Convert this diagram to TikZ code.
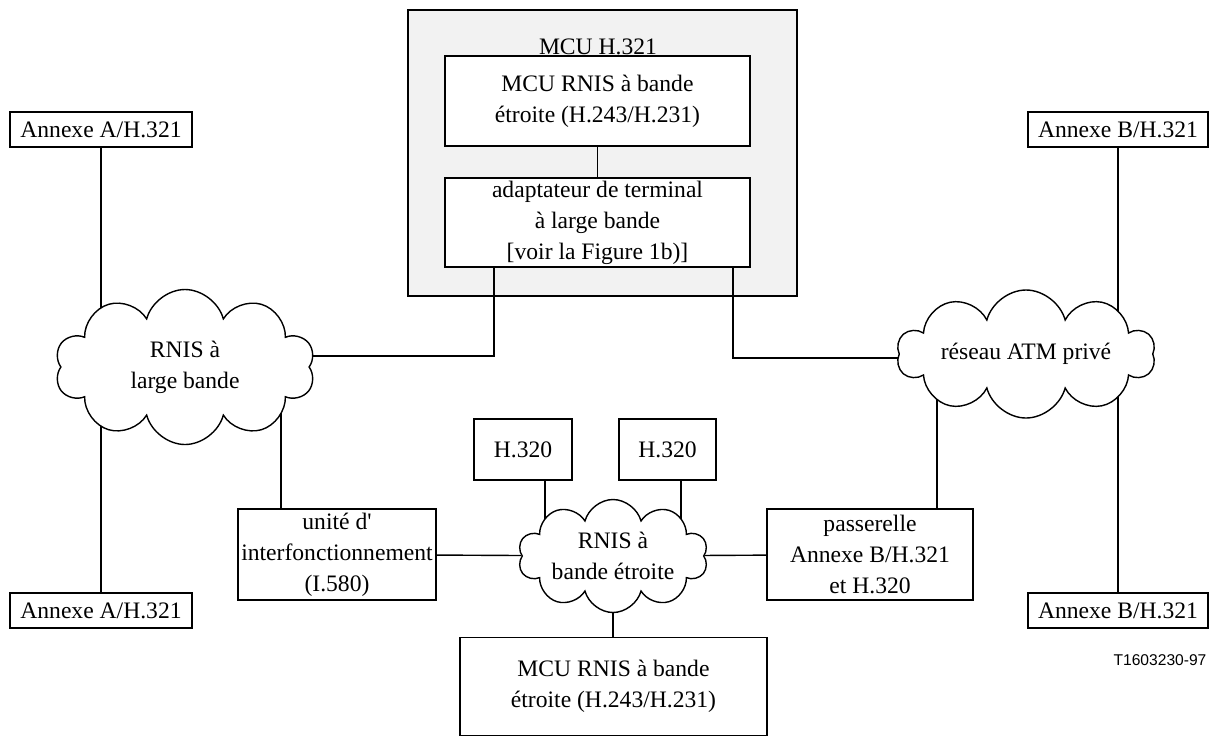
\documentclass[tikz,border=0pt]{standalone}
\usepackage{fontspec}
\setmainfont{Liberation Serif}
\newfontfamily\tagfont{Liberation Sans}
\usetikzlibrary{shapes.symbols}
\definecolor{mcuGray}{HTML}{F2F2F2}
\pgfdeclarelayer{back}
\pgfdeclarelayer{wires}
\pgfsetlayers{back,wires,main}

\begin{document}
\begin{tikzpicture}[
    x=0.5pt, y=-0.5pt,
    every node/.style={font=\fontsize{11.8}{15.5}\selectfont},
    box/.style={draw, fill=white, align=center, inner sep=0pt, line width=0.7pt, minimum width=91pt, minimum height=17.5pt},
    net/.style={cloud, cloud puffs=10, cloud ignores aspect, draw, fill=white, align=center, inner sep=0pt, line width=0.7pt},
    wire/.style={line width=0.7pt}
  ]
    \useasboundingbox (0,0) rectangle (1210,736);

    % H.321 MCU
    \begin{pgfonlayer}{back}
      \node[draw, fill=mcuGray, line width=0.9pt, minimum width=194.5pt, minimum height=143pt, inner sep=0pt] (mcu) at (602.5,153) {};
    \end{pgfonlayer}
    \node (mculabel) at (598,47) {MCU H.321};
    \node[box, minimum width=152.5pt, minimum height=45pt] (mcun) at (597.5,101) {MCU RNIS à bande\\étroite (H.243/H.231)};
    \node[box, minimum width=152.5pt, minimum height=44.5pt] (ta) at (597.5,222.5) {adaptateur de terminal\\à large bande\\{[}voir la Figure 1b)]};

    % terminals
    \node[box] (inA) at (101,129.5) {Annexe A/H.321};
    \node[box] (outA) at (101,610.5) {Annexe A/H.321};
    \node[box, minimum width=90pt] (inB) at (1118,129.5) {Annexe B/H.321};
    \node[box, minimum width=90pt] (outB) at (1118,610.5) {Annexe B/H.321};
    \node[box, minimum width=49pt, minimum height=30.5pt] (hL) at (523,449.5) {H.320};
    \node[box, minimum width=48.5pt, minimum height=30.5pt] (hR) at (667.5,449.5) {H.320};

    % networks
    \node[net, minimum width=130pt, minimum height=77.5pt] (netL) at (185,367) {RNIS à\\large bande};
    \node[net, minimum width=129pt, minimum height=64pt] (netR) at (1026,354) {réseau ATM privé};
    \node[net, minimum width=95pt, minimum height=56.5pt] (netN) at (613,556) {RNIS à\\bande étroite};

    \node[box, minimum width=99pt, minimum height=45.5pt] (iwf) at (337,554.5) {unité d\textquotesingle\\interfonctionnement\\(I.580)};
    \node[box, minimum width=103pt, minimum height=45.5pt] (gw) at (870,554.5) {passerelle\\Annexe B/H.321\\et H.320};
    \node[box, minimum width=153.5pt, minimum height=49pt] (mcuN) at (613.5,686.5) {MCU RNIS à bande\\étroite (H.243/H.231)};

    \node[font=\tagfont\fontsize{7.8}{9}\selectfont] (tag) at (1160,660) {T1603230-97};

    \coordinate (kL) at (494,356);
    \coordinate (kR) at (733,358);
    \coordinate (kD) at (281,0);
    \coordinate (kE) at (937,0);
    \coordinate (kH1) at (545,0);
    \coordinate (kH2) at (681,0);

    \begin{pgfonlayer}{wires}
      \draw[wire] (inA) -- (outA);
      \draw[wire] (inB) -- (outB);
      \draw[wire] (mcun) -- (ta);
      \draw[wire] (ta.south -| kL) -- (kL) -- (kL -| netL);
      \draw[wire] (ta.south -| kR) -- (kR) -- (kR -| netR);
      \draw[wire] (kD |- netL) -- (kD |- iwf.north);
      \draw[wire] (kE |- netR) -- (kE |- gw.north);
      \draw[wire] (kH1 |- hL.south) -- (kH1 |- netN);
      \draw[wire] (kH2 |- hR.south) -- (kH2 |- netN);
      \draw[wire] (iwf) -- (netN) -- (gw);
      \draw[wire] (netN) -- (netN |- mcuN.north);
    \end{pgfonlayer}
  \end{tikzpicture}
\end{document}
